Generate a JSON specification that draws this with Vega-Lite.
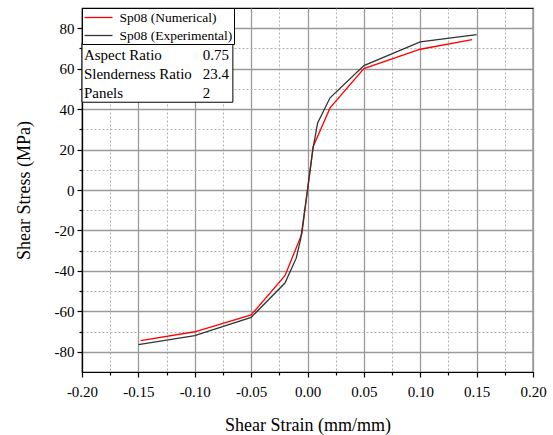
{
  "$schema": "https://vega.github.io/schema/vega-lite/v6.json",
  "width": 451,
  "height": 364,
  "autosize": {"type": "none"},
  "padding": {"left": 82, "top": 8, "right": 20, "bottom": 63},
  "background": "white",
  "config": {
    "view": {"stroke": "black", "strokeWidth": 1.2},
    "font": "Liberation Serif"
  },
  "datasets": {
    "curves": [
      {"series": "Sp08 (Numerical)", "strain": -0.148, "stress": -74.5},
      {"series": "Sp08 (Numerical)", "strain": -0.10, "stress": -70.1},
      {"series": "Sp08 (Numerical)", "strain": -0.05, "stress": -61.8},
      {"series": "Sp08 (Numerical)", "strain": -0.02, "stress": -42.4},
      {"series": "Sp08 (Numerical)", "strain": -0.005, "stress": -21.7},
      {"series": "Sp08 (Numerical)", "strain": 0.0, "stress": 0.0},
      {"series": "Sp08 (Numerical)", "strain": 0.005, "stress": 21.4},
      {"series": "Sp08 (Numerical)", "strain": 0.02, "stress": 40.6},
      {"series": "Sp08 (Numerical)", "strain": 0.05, "stress": 60.0},
      {"series": "Sp08 (Numerical)", "strain": 0.10, "stress": 69.6},
      {"series": "Sp08 (Numerical)", "strain": 0.146, "stress": 74.4},
      {"series": "Sp08 (Experimental)", "strain": -0.15, "stress": -76.5},
      {"series": "Sp08 (Experimental)", "strain": -0.10, "stress": -72.0},
      {"series": "Sp08 (Experimental)", "strain": -0.05, "stress": -63.0},
      {"series": "Sp08 (Experimental)", "strain": -0.02, "stress": -46.0},
      {"series": "Sp08 (Experimental)", "strain": -0.01, "stress": -33.7},
      {"series": "Sp08 (Experimental)", "strain": -0.006, "stress": -24.0},
      {"series": "Sp08 (Experimental)", "strain": 0.0, "stress": 0.0},
      {"series": "Sp08 (Experimental)", "strain": 0.005, "stress": 21.0},
      {"series": "Sp08 (Experimental)", "strain": 0.009, "stress": 33.2},
      {"series": "Sp08 (Experimental)", "strain": 0.02, "stress": 45.6},
      {"series": "Sp08 (Experimental)", "strain": 0.05, "stress": 61.5},
      {"series": "Sp08 (Experimental)", "strain": 0.10, "stress": 73.2},
      {"series": "Sp08 (Experimental)", "strain": 0.15, "stress": 76.8}
    ],
    "params": [
      {"param": "Aspect Ratio", "value": "0.75"},
      {"param": "Slenderness Ratio", "value": "23.4"},
      {"param": "Panels", "value": "2"}
    ]
  },
  "layer": [
    {
      "data": {"name": "curves"},
      "mark": {"type": "line", "strokeWidth": 1.3},
      "encoding": {
        "x": {
          "field": "strain",
          "type": "quantitative",
          "scale": {"domain": [-0.2, 0.2], "nice": false, "zero": false},
          "axis": {
            "orient": "bottom",
            "title": "Shear Strain (mm/mm)",
            "titleFont": "Liberation Serif",
            "titleFontSize": 18,
            "titleFontWeight": "normal",
            "titleColor": "black",
            "titlePadding": 17,
            "values": [-0.2, -0.175, -0.15, -0.125, -0.1, -0.075, -0.05, -0.025, 0, 0.025, 0.05, 0.075, 0.1, 0.125, 0.15, 0.175, 0.2],
            "labelExpr": "round(datum.value*40) % 2 != 0 ? '' : (datum.value < -0.0001 ? '-' : '') + format(abs(datum.value), '.2f')",
            "labelFont": "Liberation Serif",
            "labelFontSize": 15,
            "labelColor": "black",
            "labelOverlap": false,
            "labelFlush": false,
            "labelPadding": 7,
            "domainColor": "black",
            "domainWidth": 1.2,
            "tickColor": "black",
            "tickWidth": 1.2,
            "tickSize": {"condition": {"test": "round(datum.value*40) % 2 != 0", "value": 3}, "value": 5},
            "grid": true,
            "gridColor": {"condition": {"test": "round(datum.value*40) % 2 != 0", "value": "#b0b0b0"}, "value": "#9a9a9a"},
            "gridDash": {"condition": {"test": "round(datum.value*40) % 2 != 0", "value": [2, 2]}, "value": []},
            "gridWidth": {"condition": {"test": "round(datum.value*40) % 2 != 0", "value": 1}, "value": 1.3},
            "gridOpacity": 1
          }
        },
        "y": {
          "field": "stress",
          "type": "quantitative",
          "scale": {"domain": [-90, 90], "nice": false, "zero": false},
          "axis": {
            "orient": "left",
            "title": "Shear Stress (MPa)",
            "titleFont": "Liberation Serif",
            "titleFontSize": 18,
            "titleFontWeight": "normal",
            "titleColor": "black",
            "titlePadding": 21,
            "values": [-80, -70, -60, -50, -40, -30, -20, -10, 0, 10, 20, 30, 40, 50, 60, 70, 80],
            "labelExpr": "round(datum.value/10) % 2 != 0 ? '' : (datum.value < 0 ? '-' : '') + format(abs(datum.value), 'd')",
            "labelFont": "Liberation Serif",
            "labelFontSize": 15,
            "labelColor": "black",
            "labelOverlap": false,
            "labelFlush": false,
            "labelPadding": 3,
            "domainColor": "black",
            "domainWidth": 1.2,
            "tickColor": "black",
            "tickWidth": 1.2,
            "tickSize": {"condition": {"test": "round(datum.value/10) % 2 != 0", "value": 3}, "value": 5},
            "grid": true,
            "gridColor": {"condition": {"test": "round(datum.value/10) % 2 != 0", "value": "#b0b0b0"}, "value": "#9a9a9a"},
            "gridDash": {"condition": {"test": "round(datum.value/10) % 2 != 0", "value": [2, 2]}, "value": []},
            "gridWidth": {"condition": {"test": "round(datum.value/10) % 2 != 0", "value": 1}, "value": 1.3},
            "gridOpacity": 1
          }
        },
        "color": {
          "field": "series",
          "type": "nominal",
          "scale": {"domain": ["Sp08 (Numerical)", "Sp08 (Experimental)"], "range": ["#ff0000", "#333333"]},
          "legend": {
            "title": null,
            "orient": "top-left",
            "offset": 0,
            "padding": 1.5,
            "strokeColor": "black",
            "fillColor": "white",
            "symbolType": "M-1,0H3",
            "symbolSize": 196,
            "symbolStrokeWidth": 1.3,
            "symbolFillColor": "transparent",
            "labelFont": "Liberation Serif",
            "labelFontSize": 13.5,
            "labelColor": "black",
            "labelOffset": 20,
            "rowPadding": 3
          }
        }
      }
    },
    {
      "data": {"values": [{}]},
      "mark": {"type": "rect", "fill": "white", "stroke": "black", "strokeWidth": 1},
      "encoding": {
        "x": {"datum": -0.2, "axis": null},
        "x2": {"datum": -0.0662},
        "y": {"datum": 72.6, "scale": {"domain": [-90, 90], "nice": false, "zero": false}, "axis": null},
        "y2": {"datum": 43.4}
      }
    },
    {
      "data": {"name": "params"},
      "encoding": {
        "y": {
          "field": "param",
          "type": "ordinal",
          "scale": {"domain": ["Aspect Ratio", "Slenderness Ratio", "Panels"], "range": [47, 84.5], "padding": 0},
          "axis": null
        }
      },
      "layer": [
        {
          "mark": {"type": "text", "align": "left", "baseline": "middle", "font": "Liberation Serif", "fontSize": 15, "color": "black"},
          "encoding": {"x": {"datum": -0.1983, "axis": null}, "text": {"field": "param"}}
        },
        {
          "mark": {"type": "text", "align": "left", "baseline": "middle", "font": "Liberation Serif", "fontSize": 15, "color": "black"},
          "encoding": {"x": {"datum": -0.0928, "axis": null}, "text": {"field": "value"}}
        }
      ]
    }
  ],
  "resolve": {"scale": {"y": "independent"}, "axis": {"x": "independent", "y": "independent"}}
}
